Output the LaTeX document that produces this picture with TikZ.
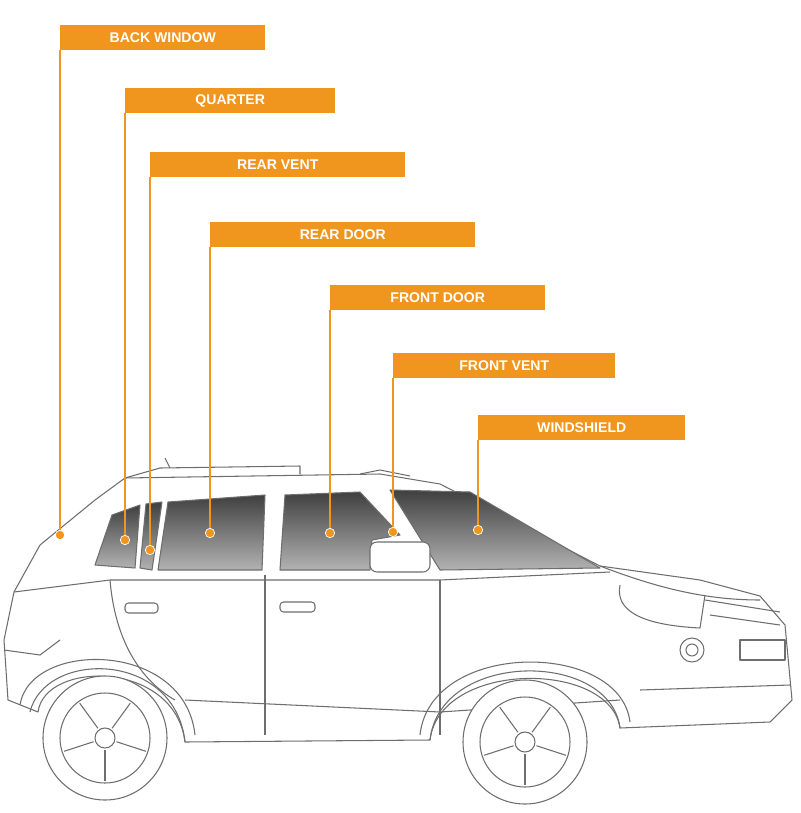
\documentclass[tikz,border=0pt]{standalone}
\usepackage{fontspec}
\setmainfont{Liberation Sans}
\usetikzlibrary{positioning,calc}
\definecolor{tagorange}{HTML}{F0961E}
\definecolor{carline}{HTML}{6E6E6E}
\tikzset{
  tag/.style={rectangle, fill=tagorange, text=white, font=\fontsize{12}{14}\selectfont\bfseries, minimum height=0.75cm, anchor=north west, inner sep=0pt},
  lead/.style={draw=tagorange, line width=1pt},
  pin/.style={circle, fill=tagorange, draw=white, line width=0.6pt, inner sep=0pt, minimum size=8pt},
  body/.style={draw=carline, line width=0.9pt, line join=round},
  glass/.style={body, top color=black!75, bottom color=black!30}
}
\begin{document}
\begin{tikzpicture}[x=0.03cm, y=-0.03cm]
    \useasboundingbox (0,0) rectangle (800,813);

    % car body
    \draw[body, fill=white] (95,500) -- (125,478) -- (380,474) -- (440,484) -- (600,566) -- (700,580) -- (760,596) -- (785,625) -- (792,700) -- (770,722) -- (620,728)
        .. controls (610,660) and (440,660) .. (430,740) -- (185,742)
        .. controls (175,660) and (45,660) .. (38,712) -- (8,700) -- (4,640) -- (14,592) -- (40,545) -- cycle;
    \draw[body] (125,478) -- (160,468) -- (300,466) -- (300,474);
    \draw[body] (170,468) -- (165,458);
    \draw[body] (360,474) -- (380,470) -- (410,476);
    \draw[body] (14,592) -- (110,580) -- (440,580) -- (610,572);
    \draw[body] (600,566) .. controls (650,585) and (700,600) .. (760,600);
    \draw[body] (4,650) -- (40,655) -- (60,640);
    \draw[body] (185,700) -- (440,712) -- (620,700);
    % doors
    \draw[body] (110,580) .. controls (115,640) and (140,680) .. (175,700);
    \draw[body] (265,575) -- (265,735);
    \draw[body] (440,580) -- (440,735);
    \draw[body, rounded corners=3pt] (125,603) rectangle (158,613);
    \draw[body, rounded corners=3pt] (280,602) rectangle (315,612);
    % front end
    \draw[body] (620,585) .. controls (615,610) and (640,625) .. (700,628) -- (705,595);
    \draw[body] (705,600) -- (780,612);
    \draw[body] (710,615) -- (780,625);
    \draw[body] (740,640) rectangle (785,660);
    \draw[body] (692,650) circle (12);
    \draw[body] (692,650) circle (6);
    \draw[body] (640,690) -- (790,685);

    % windows
    \draw[glass] (95,565) -- (112,515) -- (140,505) -- (135,568) -- cycle;
    \draw[glass] (140,568) -- (146,504) -- (162,502) -- (152,570) -- cycle;
    \draw[glass] (158,570) -- (168,502) -- (265,495) -- (262,570) -- cycle;
    \draw[glass] (280,570) -- (285,495) -- (360,492) -- (400,535) -- (372,540) -- (370,570) -- cycle;
    \draw[glass] (390,490) -- (470,492) -- (600,568) -- (440,570) -- cycle;
    \draw[body, fill=white, rounded corners=6pt] (370,542) rectangle (430,572);

    % wheels
    \foreach \cx/\cy in {105/738, 525/742} {
        \draw[body, fill=white] (\cx,\cy) circle (62);
        \draw[body] (\cx,\cy) circle (45);
        \draw[body] (\cx,\cy) circle (10);
        \foreach \a in {90,162,234,306,18}
            \draw[body] ($(\cx,\cy)+(\a:12)$) -- ($(\cx,\cy)+(\a:43)$);
    }
    % wheel arches
    \draw[body] (185,742) .. controls (175,650) and (45,650) .. (30,712);
    \draw[body] (620,728) .. controls (610,650) and (440,650) .. (430,740);
    \draw[body] (195,735) .. controls (185,640) and (30,640) .. (20,705);
    \draw[body] (630,722) .. controls (620,640) and (430,640) .. (420,735);

    % tags
    \node[tag, minimum width=6.15cm] (bw) at (60,25) {BACK WINDOW};
    \node[tag, minimum width=6.3cm]  (qt) at (125,88) {QUARTER};
    \node[tag, minimum width=7.65cm] (rv) at (150,152) {REAR VENT};
    \node[tag, minimum width=7.95cm] (rd) at (210,222) {REAR DOOR};
    \node[tag, minimum width=6.45cm] (fd) at (330,285) {FRONT DOOR};
    \node[tag, minimum width=6.66cm] (fv) at (393,353) {FRONT VENT};
    \node[tag, minimum width=6.21cm] (ws) at (478,415) {WINDSHIELD};

    \coordinate (pbw) at (60,535);
    \coordinate (pqt) at (125,540);
    \coordinate (prv) at (150,550);
    \coordinate (prd) at (210,533);
    \coordinate (pfd) at (330,533);
    \coordinate (pfv) at (393,532);
    \coordinate (pws) at (478,530);

    \foreach \t in {bw,qt,rv,rd,fd,fv,ws} {
        \draw[lead] (\t.south west) -- (p\t);
        \node[pin] at (p\t) {};
    }
\end{tikzpicture}
\end{document}
